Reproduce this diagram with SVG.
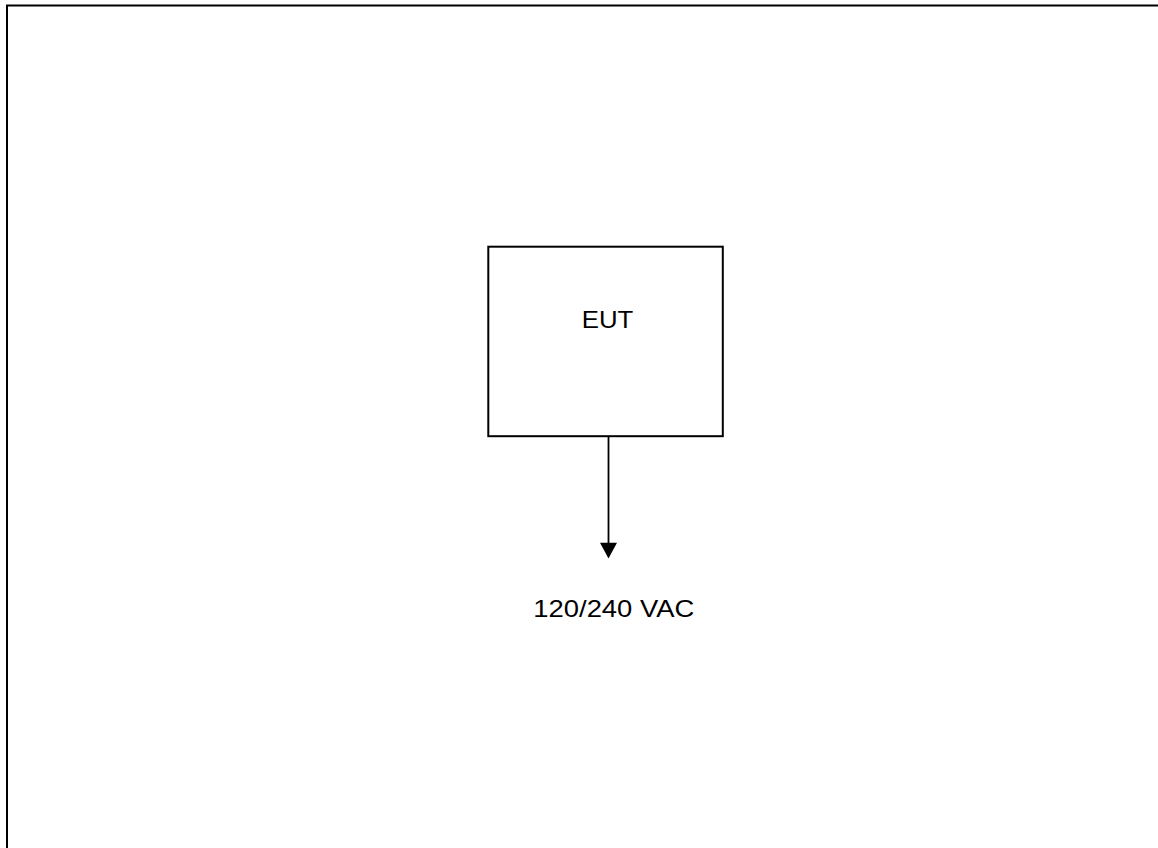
<svg xmlns="http://www.w3.org/2000/svg" width="1158" height="848" viewBox="0 0 1158 848">
<style>
.frame{fill:none;stroke:#000;stroke-width:2}
.box{fill:#fff;stroke:#000;stroke-width:2}
.wire{stroke:#000;stroke-width:1.8;fill:none}
.lbl{font-family:"Liberation Sans",Arial,sans-serif;font-size:24px;fill:#000;text-anchor:middle}
</style>
<rect width="1158" height="848" fill="#fff"/>
<rect class="frame" x="7" y="5.5" width="1160" height="860"/>
<g id="eut">
<rect class="box" x="488.3" y="246.7" width="234.5" height="189.5"/>
<text class="lbl" x="607.5" y="328.3" textLength="51.5" lengthAdjust="spacingAndGlyphs">EUT</text>
</g>
<g id="connectors">
<line class="wire" x1="608.5" y1="436" x2="608.5" y2="544"/>
<polygon points="600,542.7 617,542.7 608.5,558.5" fill="#000"/>
</g>
<g id="power">
<text class="lbl" x="613.8" y="617.3" textLength="161" lengthAdjust="spacingAndGlyphs">120/240 VAC</text>
</g>
</svg>
